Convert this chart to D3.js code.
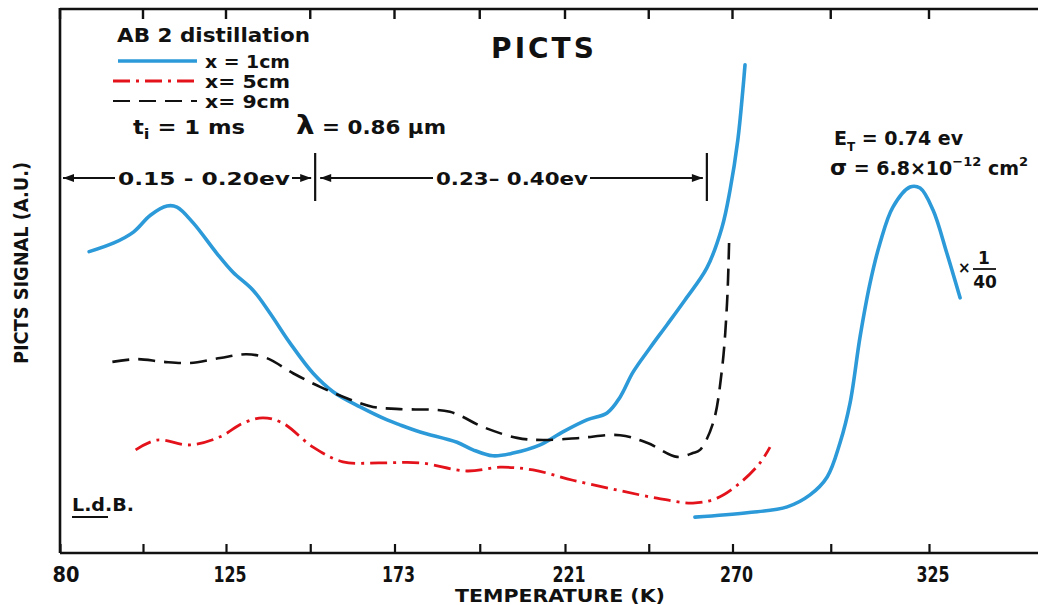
<!DOCTYPE html>
<html><head><meta charset="utf-8">
<script src="https://cdn.jsdelivr.net/npm/d3@7"></script>
<style>
html,body{margin:0;padding:0;background:#fff;}
svg{display:block;}
text{font-family:"DejaVu Sans","Open Sans",sans-serif;fill:#111;}
</style></head>
<body><svg id="c" width="1038" height="605"></svg>
<script>
// ---------- data ----------
const tickLabels = [80, 125, 173, 221, 270, 325];
const minorTicks = [102.5, 149, 197, 245.5, 297.5];
const seriesNames = ["x = 1cm", "x= 5cm", "x= 9cm"];

// x = 1cm (blue, solid)
const blueT = [87.9, 94.6, 99.9, 104.5, 109.0, 111.7, 116.1, 122.5, 127.0, 132.7, 137.5, 143.2, 149.8, 155.5, 163.2, 170.9, 174.5, 180.2, 190.6, 195.1, 200.7, 206.4, 214.0, 220.4, 227.4, 233.3, 237.1, 240.9, 245.9, 250.8, 256.1, 262.5, 266.9, 269.3, 271.5, 272.9, 273.5];
const blueS = [55.5, 57.1, 59.1, 62.2, 63.9, 63.7, 60.8, 55.2, 51.7, 48.4, 44.2, 38.7, 33.1, 29.7, 26.9, 24.5, 23.6, 22.3, 20.4, 19.0, 17.9, 18.4, 19.9, 22.3, 24.5, 25.8, 28.7, 33.3, 37.8, 42.0, 46.6, 52.5, 59.9, 66.9, 76.1, 85.3, 89.9];
// x = 1cm, high-temperature peak (scaled x 1/40)
const blueHiT = [259.0, 274.1, 285.3, 291.7, 296.5, 300.1, 302.9, 305.7, 308.5, 311.3, 314.9, 319.7, 322.5, 326.1, 330.0, 333.7];
const blueHiS = [6.6, 7.4, 8.5, 10.7, 14.0, 20.3, 27.6, 39.8, 49.7, 57.1, 63.7, 67.4, 67.2, 63.2, 55.2, 47.0];
// x = 5cm (red, dash-dot)
const redT = [100.5, 106.3, 115.3, 123.4, 129.8, 135.5, 141.2, 149.8, 158.3, 168.9, 180.2, 193.4, 202.7, 212.0, 223.3, 236.2, 247.9, 258.4, 265.5, 272.1, 277.7, 280.5];
const redS = [19.0, 20.8, 19.9, 21.4, 23.9, 24.9, 23.9, 19.5, 16.8, 16.6, 16.6, 15.1, 15.8, 15.3, 13.4, 11.6, 10.1, 9.2, 10.1, 12.9, 16.6, 19.5];
// x = 9cm (black, dashed)
const blackT = [94.2, 100.9, 108.0, 115.3, 123.4, 130.9, 136.6, 144.1, 151.8, 159.4, 166.9, 174.5, 188.6, 197.9, 207.5, 214.8, 225.4, 237.1, 245.0, 253.8, 258.4, 260.5, 264.3, 266.9, 268.4, 269.0];
const blackS = [35.2, 35.7, 35.2, 35.0, 35.9, 36.6, 35.9, 33.1, 30.6, 28.5, 26.9, 26.5, 26.0, 23.2, 21.2, 20.8, 21.2, 21.7, 20.3, 17.7, 18.4, 19.0, 23.9, 33.7, 46.0, 57.1];
// activation-energy ranges (K)
const bandEdges = [80, 150.4, 262.5];
const bandLabels = ["0.15 - 0.20ev", "0.23\u2013 0.40ev"];

// ---------- scales ----------
const svg = d3.select("#c");
const x = d3.scaleLinear()
  .domain([80, 125, 173, 221, 270, 325, 355.5])
  .range([60, 226, 394.5, 565, 732.5, 929, 1038]);
const y = d3.scaleLinear().domain([0, 100]).range([553, 10]);

const zip = (a, b) => a.map((v, i) => [v, b[i]]);
const line = d3.line().x(d => x(d[0])).y(d => y(d[1])).curve(d3.curveCatmullRom.alpha(0.5));

// ---------- axes ----------
const allTicks = tickLabels.concat(minorTicks).sort((a, b) => a - b);
const bottomAxis = d3.axisBottom(x).tickValues(allTicks).tickSize(-9).tickFormat("");
const gB = svg.append("g").attr("transform", `translate(0,${y(0)})`).call(bottomAxis);
gB.select(".domain").remove();
gB.selectAll(".tick line").attr("stroke", "#111").attr("stroke-width", 2.2);

// top frame ticks (pointing down)
const topTickPath = allTicks.map(d => `M${x(d)},8V19`).join("");
svg.append("path").attr("d", topTickPath).attr("fill", "none").attr("stroke", "#111").attr("stroke-width", 2.4);

svg.append("line").attr("x1", x(80)).attr("x2", 1038).attr("y1", y(0)).attr("y2", y(0)).attr("stroke", "#111").attr("stroke-width", 2.6);
svg.append("line").attr("x1", x(80)).attr("x2", 1038).attr("y1", 9).attr("y2", 9).attr("stroke", "#111").attr("stroke-width", 2.6);
svg.append("line").attr("x1", x(80)).attr("x2", x(80)).attr("y1", 8).attr("y2", y(0)).attr("stroke", "#111").attr("stroke-width", 2.6);

svg.selectAll(".tl").data(tickLabels).enter().append("text")
  .attr("class", "tl")
  .attr("x", (d, i) => x(d) + (i === 0 ? 6 : 4)).attr("y", 582)
  .attr("text-anchor", "middle").attr("font-size", 21).attr("font-weight", "bold")
  .attr("textLength", d => String(d).length === 2 ? 27 : 33).attr("lengthAdjust", "spacingAndGlyphs")
  .text(d => d);

svg.append("text").attr("x", 560).attr("y", 602).attr("text-anchor", "middle")
  .attr("font-size", 17).attr("font-weight", "bold")
  .attr("textLength", 210).attr("lengthAdjust", "spacingAndGlyphs")
  .text("TEMPERATURE (K)");

svg.append("text").attr("transform", "translate(28,263) rotate(-90)")
  .attr("text-anchor", "middle").attr("font-size", 19).attr("font-weight", "bold")
  .attr("textLength", 202).attr("lengthAdjust", "spacingAndGlyphs")
  .text("PICTS SIGNAL (A.U.)");

// ---------- curves ----------
const blue = "#2c9ad8", red = "#e3121b";
svg.append("path").attr("d", line(zip(blueT, blueS))).attr("fill", "none").attr("stroke", blue).attr("stroke-width", 3.6).attr("stroke-linecap", "round");
svg.append("path").attr("d", line(zip(blueHiT, blueHiS))).attr("fill", "none").attr("stroke", blue).attr("stroke-width", 3.6).attr("stroke-linecap", "round");
svg.append("path").attr("d", line(zip(redT, redS))).attr("fill", "none").attr("stroke", red).attr("stroke-width", 2.8).attr("stroke-dasharray", "17,6,3,6");
svg.append("path").attr("d", line(zip(blackT, blackS))).attr("fill", "none").attr("stroke", "#111").attr("stroke-width", 2.6).attr("stroke-dasharray", "17,9");

// ---------- legend ----------
svg.append("text").attr("x", 117).attr("y", 42).attr("font-size", 20).attr("font-weight", "bold")
  .attr("textLength", 193).attr("lengthAdjust", "spacingAndGlyphs").text("AB 2 distillation");
const legStyles = [
  {c: blue, w: 3.6, dash: null},
  {c: red, w: 2.8, dash: "17,6,3,6"},
  {c: "#111", w: 2.2, dash: "17,9"}
];
seriesNames.forEach((s, i) => {
  const ly = 61 + i * 20;
  svg.append("line").attr("x1", i === 0 ? 118 : 113).attr("x2", 197).attr("y1", ly).attr("y2", ly)
    .attr("stroke", legStyles[i].c).attr("stroke-width", legStyles[i].w)
    .attr("stroke-dasharray", legStyles[i].dash);
  svg.append("text").attr("x", 205).attr("y", ly + 7).attr("font-size", 18).attr("font-weight", "bold")
    .attr("textLength", 85).attr("lengthAdjust", "spacingAndGlyphs").text(s);
});

const t1 = svg.append("text").attr("x", 133).attr("y", 134).attr("font-size", 19).attr("font-weight", "bold")
  .attr("textLength", 112).attr("lengthAdjust", "spacingAndGlyphs");
t1.append("tspan").text("t");
t1.append("tspan").attr("dy", 5).attr("font-size", 14).text("i");
t1.append("tspan").attr("dy", -5).text(" = 1 ms");

const t2 = svg.append("text").attr("x", 296).attr("y", 134).attr("font-size", 19).attr("font-weight", "bold")
  .attr("textLength", 150).attr("lengthAdjust", "spacingAndGlyphs");
t2.append("tspan").attr("font-size", 26).text("\u03bb");
t2.append("tspan").text(" = 0.86 \u00b5m");

svg.append("text").attr("x", 544).attr("y", 58).attr("text-anchor", "middle")
  .attr("font-size", 28).attr("font-weight", "bold").attr("letter-spacing", 3).text("PICTS");

// ---------- energy ranges ----------
const ay = 178;
bandEdges.slice(1).forEach(b => {
  svg.append("line").attr("x1", x(b)).attr("x2", x(b)).attr("y1", 153).attr("y2", 201)
    .attr("stroke", "#111").attr("stroke-width", 2.2);
});
function arrowHead(px, dir) {
  svg.append("path").attr("d", `M${px},${ay} L${px - dir * 11},${ay - 4} L${px - dir * 11},${ay + 4} Z`).attr("fill", "#111");
}
const segs = [
  {a: x(bandEdges[0]) + 3, b: x(bandEdges[1]) - 4, l1: 115, l2: 292, tx: 204, tw: 172},
  {a: x(bandEdges[1]) + 5, b: x(bandEdges[2]) - 4, l1: 433, l2: 590, tx: 512, tw: 152}
];
segs.forEach((s, i) => {
  svg.append("line").attr("x1", s.a).attr("x2", s.l1).attr("y1", ay).attr("y2", ay).attr("stroke", "#111").attr("stroke-width", 2);
  svg.append("line").attr("x1", s.l2).attr("x2", s.b).attr("y1", ay).attr("y2", ay).attr("stroke", "#111").attr("stroke-width", 2);
  arrowHead(s.a, -1);
  arrowHead(s.b, 1);
  svg.append("text").attr("x", s.tx).attr("y", ay + 7).attr("text-anchor", "middle").attr("font-size", 18).attr("font-weight", "bold")
    .attr("textLength", s.tw).attr("lengthAdjust", "spacingAndGlyphs").text(bandLabels[i]);
});

// ---------- right annotations ----------
const e1 = svg.append("text").attr("x", 834).attr("y", 145).attr("font-size", 19).attr("font-weight", "bold");
e1.append("tspan").text("E");
e1.append("tspan").attr("dy", 6).attr("font-size", 12).text("T");
e1.append("tspan").attr("dy", -6).text(" = 0.74 ev");

const e2 = svg.append("text").attr("x", 830).attr("y", 175).attr("font-size", 19).attr("font-weight", "bold");
e2.append("tspan").attr("font-size", 22).text("\u03c3");
e2.append("tspan").text(" = 6.8\u00d710");
e2.append("tspan").attr("dy", -9).attr("font-size", 13).text("\u221212");
e2.append("tspan").attr("dy", 9).text(" cm");
e2.append("tspan").attr("dy", -9).attr("font-size", 13).text("2");

svg.append("text").attr("x", 958).attr("y", 273).attr("font-size", 15).attr("font-weight", "bold").text("\u00d7");
svg.append("text").attr("x", 984).attr("y", 264).attr("text-anchor", "middle").attr("font-size", 17).attr("font-weight", "bold").text("1");
svg.append("line").attr("x1", 973).attr("x2", 996).attr("y1", 269).attr("y2", 269).attr("stroke", "#111").attr("stroke-width", 1.8);
svg.append("text").attr("x", 985).attr("y", 288).attr("text-anchor", "middle").attr("font-size", 17).attr("font-weight", "bold").text("40");

// ---------- signature ----------
svg.append("text").attr("x", 72).attr("y", 511).attr("font-size", 18).attr("font-weight", "bold")
  .attr("textLength", 62).attr("lengthAdjust", "spacingAndGlyphs").text("L.d.B.");
svg.append("line").attr("x1", 72).attr("x2", 108).attr("y1", 517).attr("y2", 517).attr("stroke", "#111").attr("stroke-width", 2);
</script></body></html>
